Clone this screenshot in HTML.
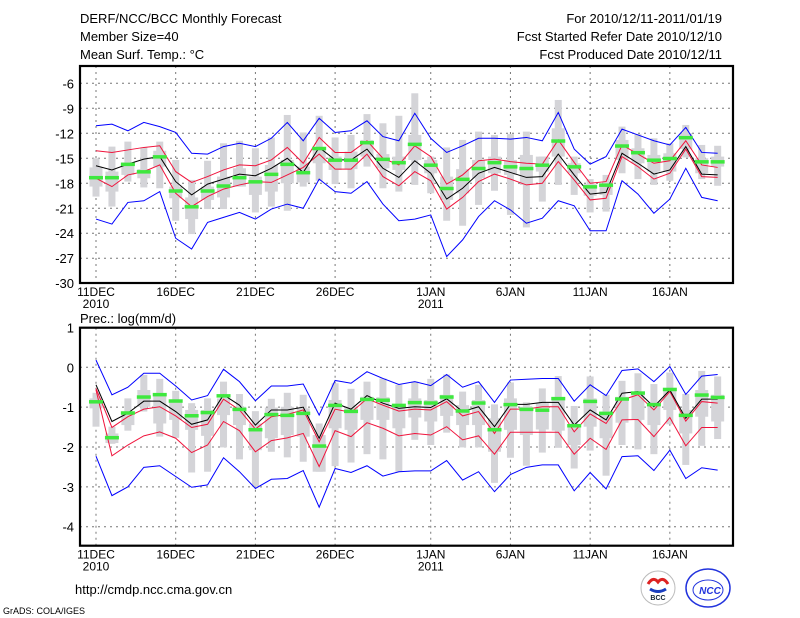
<!DOCTYPE html>
<html><head><meta charset="utf-8"><style>
body{margin:0;background:#fff;width:800px;height:618px;overflow:hidden}
svg{display:block}
text{font-family:"Liberation Sans",sans-serif;fill:#000}
</style></head><body>
<svg id="c" width="800" height="618" xmlns="http://www.w3.org/2000/svg">
<g font-size="13">
<text x="80" y="23">DERF/NCC/BCC Monthly Forecast</text>
<text x="80" y="41">Member Size=40</text>
<text x="80" y="59">Mean Surf. Temp.: °C</text>
<text x="722" y="23" text-anchor="end">For 2010/12/11-2011/01/19</text>
<text x="722" y="41" text-anchor="end">Fcst Started Refer Date 2010/12/10</text>
<text x="722" y="59" text-anchor="end">Fcst Produced Date 2010/12/11</text>
<text x="80" y="323">Prec.: log(mm/d)</text>
<text x="75" y="594">http://cmdp.ncc.cma.gov.cn</text>
<text x="3" y="614" font-size="9">GrADS: COLA/IGES</text>
</g>
<g>
<circle cx="658" cy="588" r="17" fill="#fff" stroke="#bbb"/>
<path d="M648 584 q5 -8 10 -2 q5 -6 10 2" stroke="#d22" stroke-width="3" fill="none"/>
<path d="M650 589 q8 5 16 0" stroke="#1a3fc0" stroke-width="3" fill="none"/>
<text x="658" y="600" font-size="7" text-anchor="middle" font-weight="bold" style="fill:#123">BCC</text>
</g>
<g>
<ellipse cx="708" cy="588" rx="22" ry="19" fill="#fff" stroke="#2233dd" stroke-width="1.5"/>
<ellipse cx="708" cy="590" rx="15" ry="10" fill="none" stroke="#2233dd" stroke-width="1"/>
<text x="710" y="594" font-size="10" text-anchor="middle" font-weight="bold" font-style="italic" style="fill:#2233dd">NCC</text>
</g>
<g id="p1"></g>
<g id="p2"></g>
</svg>
<script>
// Temperature panel data (40 days, 11 Dec 2010 - 19 Jan 2011)
const tBlueHi=[-11.1,-10.9,-11.7,-10.7,-11.2,-11.9,-14.4,-14.5,-13.6,-13.2,-13.6,-12.6,-10.7,-12.9,-10.2,-11.9,-11.7,-10.5,-12.4,-12.9,-9.6,-12.6,-14.3,-13.5,-12.6,-12.6,-12.7,-12.5,-12.9,-9.5,-13.9,-15.7,-14.8,-11.5,-12.2,-12.9,-13.4,-11.3,-14.3,-14.4];
const tBlueLo=[-22.3,-22.9,-20.3,-20.1,-19,-24.6,-25.9,-22.7,-22.1,-21.5,-22.3,-21.1,-20.5,-21,-17.5,-19,-19.2,-17.8,-20.5,-22.5,-22.3,-21.8,-26.8,-24.8,-22,-20.1,-21.2,-22.8,-22.2,-20.1,-20.7,-23.7,-23.7,-17.7,-19.3,-21.6,-19.9,-16.2,-19.7,-20.1];
const tRedHi=[-14.1,-14.3,-14,-13.7,-13.5,-16.6,-17.9,-17.2,-16.4,-15.8,-15.9,-15.2,-13.7,-15.6,-12.5,-14.3,-14.3,-12.9,-15,-15.8,-13.5,-14.8,-18.1,-17,-15.3,-15.1,-15.4,-15.6,-15.7,-12.8,-15.5,-18,-17.8,-13.4,-14.5,-15.6,-15.3,-12.9,-15.8,-16.1];
const tMean=[-15.9,-16.4,-15.7,-15.1,-14.8,-17.8,-19.4,-18.1,-17.5,-16.9,-17.1,-16.2,-15,-16.7,-13.7,-15.2,-15.2,-13.9,-16.2,-17.3,-15.3,-16.8,-19.9,-18.6,-16.8,-16.1,-16.7,-17.3,-17.2,-14.5,-17,-19.3,-19.1,-14.4,-15.6,-16.9,-16.4,-13.6,-16.9,-17];
const tRedLo=[-17.4,-18.4,-17,-16.6,-15.8,-19.2,-20.8,-19.6,-18.7,-18.2,-17.8,-17.9,-17,-16.1,-14.5,-16.3,-16.3,-14.5,-17.2,-18.3,-16.6,-17.7,-21.1,-19.7,-17.8,-16.9,-17.5,-18.2,-18,-15.4,-17.6,-20,-19.8,-14.8,-16,-17.5,-16.8,-13.9,-17.2,-17.3];
const tObs=[-17.3,-17.3,-15.7,-16.6,-14.8,-18.9,-20.8,-18.9,-18.3,-17.3,-17.8,-16.9,-15.7,-16.7,-13.8,-15.2,-15.2,-13.1,-15.1,-15.5,-13.3,-15.8,-18.6,-17.5,-16.2,-15.5,-16,-16.2,-15.8,-12.9,-16,-18.4,-18.2,-13.5,-14.3,-15.2,-15,-12.5,-15.4,-15.4];
const tMax=[-15,-13.6,-13,-13.7,-13,-15.2,-17.6,-15.3,-13.2,-12.9,-13.8,-12.5,-9.8,-11.9,-9.9,-12.5,-12.2,-9.7,-10.8,-9.9,-7.2,-14.8,-13.7,-12.8,-11.8,-12.2,-12.1,-11.8,-14.8,-8,-14.8,-17.5,-17,-11.2,-12.1,-12.6,-13.2,-11,-13.4,-13.5];
const tMin=[-19.6,-20.8,-17.8,-18.5,-18.6,-22.5,-24.1,-21.1,-21.1,-18.4,-21.5,-20.8,-21.3,-18.4,-17.7,-18.1,-18.6,-16,-18.6,-19,-18.2,-19.2,-22.5,-23.1,-20.6,-18.9,-21.8,-23.3,-20.2,-18.2,-19.4,-21.5,-21.4,-16.8,-17.5,-18.2,-17.7,-14.9,-17.5,-18.3];
const tQ3=[-16.1,-16.6,-15.5,-16.3,-14.1,-18.4,-19.7,-18.4,-17.2,-16.2,-17.2,-15.8,-15.2,-16,-13.7,-14.8,-14.2,-12.8,-14.5,-14.8,-12.2,-15.2,-17.2,-16.3,-15.2,-14.8,-15.2,-14.6,-14.8,-11.4,-15.6,-18.1,-18,-12.8,-13.8,-14.6,-14.4,-12,-15,-14.8];
const tQ1=[-18.4,-19,-17,-17.4,-16,-19.8,-22.3,-20,-19.7,-18.4,-19.4,-19,-18,-17.9,-15.6,-16.4,-16.3,-14.8,-16.2,-16.4,-15.2,-16.8,-20,-19.2,-17.4,-16.8,-17,-18.2,-16.6,-14.8,-16.8,-19.5,-19.4,-15.2,-15.6,-16.6,-16.6,-13.9,-16.8,-16];
const tTicks=[-6,-9,-12,-15,-18,-21,-24,-27,-30];
const tTickLabels=["-6","-9","-12","-15","-18","-21","-24","-27","-30"];
// Precipitation panel data, log(mm/d)
const pBlueHi=[0.18,-0.69,-0.5,-0.15,-0.15,-0.47,-0.82,-0.71,-0.05,-0.36,-0.84,-0.47,-0.47,-0.42,-1.2,-0.33,-0.4,-0.11,-0.28,-0.43,-0.36,-0.46,-0.18,-0.5,-0.36,-0.88,-0.32,-0.3,-0.28,-0.28,-0.85,-0.44,-0.71,-0.08,-0.04,-0.36,0.02,-0.68,-0.22,-0.18];
const pBlueLo=[-2.23,-3.22,-3,-2.51,-2.47,-2.74,-3.01,-2.95,-2.27,-2.62,-3.04,-2.81,-2.79,-2.59,-3.51,-2.54,-2.64,-2.47,-2.73,-2.62,-2.6,-2.6,-2.34,-2.83,-2.62,-3.12,-2.69,-2.51,-2.45,-2.45,-3.1,-2.64,-3.05,-2.24,-2.22,-2.59,-2.08,-2.79,-2.52,-2.58];
const pRedHi=[-0.53,-1.51,-1.24,-1.05,-0.99,-1.22,-1.51,-1.43,-0.8,-1.07,-1.55,-1.24,-1.18,-1.07,-1.87,-1.05,-1.13,-0.79,-0.95,-1.1,-1.05,-1.07,-0.86,-1.22,-1.11,-1.66,-1.05,-1.05,-0.99,-0.99,-1.62,-1.17,-1.41,-0.82,-0.69,-1.07,-0.61,-1.35,-0.86,-0.9];
const pMean=[-0.44,-1.36,-1.15,-0.85,-0.85,-1.11,-1.43,-1.32,-0.69,-0.95,-1.45,-1.07,-1.07,-1,-1.78,-0.9,-1.05,-0.71,-0.9,-1.03,-0.99,-1.01,-0.79,-1.11,-0.99,-1.49,-0.93,-0.93,-0.88,-0.88,-1.45,-1.07,-1.32,-0.65,-0.61,-0.99,-0.57,-1.28,-0.8,-0.8];
const pRedLo=[-0.57,-2.22,-1.95,-1.72,-1.62,-1.78,-2.14,-1.95,-1.36,-1.59,-2.12,-1.84,-1.77,-1.66,-2.49,-1.59,-1.74,-1.39,-1.53,-1.72,-1.66,-1.7,-1.49,-1.82,-1.72,-2.18,-1.63,-1.63,-1.63,-1.63,-2.18,-1.78,-2.06,-1.32,-1.31,-1.74,-1.26,-1.97,-1.51,-1.51];
const pObs=[-0.86,-1.76,-1.14,-0.74,-0.68,-0.84,-1.21,-1.13,-0.71,-1.05,-1.56,-1.18,-1.2,-1.15,-1.97,-0.95,-1.1,-0.8,-0.82,-0.95,-0.88,-0.89,-0.74,-1.09,-0.89,-1.56,-0.93,-1.05,-1.07,-0.78,-1.46,-0.85,-1.15,-0.79,-0.64,-0.93,-0.55,-1.2,-0.69,-0.75];
const pMax=[-0.64,-1.49,-0.78,-0.19,-0.29,-0.59,-0.9,-0.78,-0.36,-0.67,-1.1,-0.79,-0.64,-0.69,-1.41,-0.4,-0.54,-0.36,-0.28,-0.44,-0.36,-0.29,-0.18,-0.61,-0.44,-0.93,-0.38,-0.88,-0.53,-0.22,-0.97,-0.23,-0.69,-0.34,-0.15,-0.42,-0.13,-0.67,-0.09,-0.23];
const pMin=[-1.49,-1.92,-1.59,-1.11,-1.74,-1.77,-2.64,-2.62,-2.01,-2.31,-3,-2.12,-2.26,-2.37,-2.62,-2.48,-2.39,-2.18,-2.31,-2.62,-1.82,-1.95,-1.64,-2.01,-2.01,-2.9,-2.27,-2.47,-2.14,-2.02,-2.54,-2.09,-2.72,-1.95,-2.06,-2.18,-1.43,-2.45,-1.97,-1.8];
const pQ3=[-0.78,-1.66,-1.11,-0.57,-0.69,-0.86,-1.07,-1.07,-0.78,-0.99,-1.41,-1.01,-0.99,-1.03,-1.7,-0.82,-0.99,-0.74,-0.75,-0.95,-0.78,-0.82,-0.69,-0.95,-0.82,-1.28,-0.78,-0.99,-0.9,-0.75,-1.49,-0.78,-1.11,-0.74,-0.61,-0.9,-0.53,-1.07,-0.57,-0.69];
const pQ1=[-1.03,-1.9,-1.45,-0.99,-1.41,-1.32,-1.57,-1.72,-1.2,-1.45,-2.08,-1.78,-1.7,-1.74,-2.62,-1.53,-1.57,-1.32,-1.32,-1.53,-1.26,-1.36,-1.22,-1.45,-1.45,-2.12,-1.57,-1.7,-1.56,-1.59,-1.95,-1.49,-1.78,-1.39,-1.32,-1.45,-1.07,-1.66,-1.24,-1.36];
const pTicks=[1,0,-1,-2,-3,-4];
const pTickLabels=["1","0","-1","-2","-3","-4"];
const dateTicks=[0,5,10,15,21,26,31,36];
const dateLabels=["11DEC","16DEC","21DEC","26DEC","1JAN","6JAN","11JAN","16JAN"];
const yearLabels=["2010","","","","2011","","",""];

const NS="http://www.w3.org/2000/svg";
function mk(parent,tag,attrs){const e=document.createElementNS(NS,tag);for(const k in attrs)e.setAttribute(k,attrs[k]);parent.appendChild(e);return e;}
const X0=80,X1=733;
function xs(i){return 96+i*15.94;}

function panel(g,top,bot,yAt,ticks,tickLabels,blueHi,blueLo,redHi,mean,redLo,obs,mx,mn,q3,q1){
  const ys=yAt;
  ticks.forEach((t,k)=>{
    const y=ys(t);
    const gl=mk(g,'line',{x1:X0,x2:X1,y1:y,y2:y,stroke:'#777','stroke-dasharray':'2,4','stroke-width':1});
    
    
    const tl=mk(g,'text',{x:74,y:y+5,'text-anchor':'end','font-size':13});
    tl.textContent=tickLabels[k];
    
    
  });
  dateTicks.forEach((d,k)=>{
    const x=xs(d);
    const gl=mk(g,'line',{x1:x,x2:x,y1:top,y2:bot,stroke:'#777','stroke-dasharray':'2,4','stroke-width':1});
    
    
    const tl=mk(g,'text',{x:x,y:bot+13,'text-anchor':'middle','font-size':12});
    tl.textContent=dateLabels[k];
    
    
    if(yearLabels[k]){
      const yl=mk(g,'text',{x:x,y:bot+25,'text-anchor':'middle','font-size':12});
      yl.textContent=yearLabels[k];
      
      
    }
  });
  for(let i=0;i<mx.length;i++){
    const x=xs(i);
    const w=mk(g,'rect',{x:x-3.5,y:ys(mx[i]),width:7,height:ys(mn[i])-ys(mx[i]),fill:'#d4d4d8'});
    
    
    const b=mk(g,'rect',{x:x-6.5,y:ys(q3[i]),width:13,height:ys(q1[i])-ys(q3[i]),fill:'#d4d4d8'});
    
    
  }
  const line=(arr,col,name)=>{
    const p=mk(g,'polyline',{points:arr.map((v,i)=>xs(i)+','+ys(v)).join(' '),fill:'none',stroke:col,'stroke-width':1});
    
    
  };
  line(blueHi,'#0000ff','upper-extreme-line');
  line(blueLo,'#0000ff','lower-extreme-line');
  line(redHi,'#f0143c','upper-spread-line');
  line(redLo,'#f0143c','lower-spread-line');
  line(mean,'#000','ensemble-mean-line');
  for(let i=0;i<obs.length;i++){
    const r=mk(g,'rect',{x:xs(i)-7,y:ys(obs[i])-1.5,width:14,height:3.5,fill:'#3ee83e'});
    
    
  }
  const f=mk(g,'rect',{x:X0,y:top,width:X1-X0,height:bot-top,fill:'none',stroke:'#000','stroke-width':2.2});
  
  
}
panel(document.getElementById('p1'),66,283,v=>83.3+(-6-v)*8.33,tTicks,tTickLabels,tBlueHi,tBlueLo,tRedHi,tMean,tRedLo,tObs,tMax,tMin,tQ3,tQ1);
panel(document.getElementById('p2'),327.7,545.7,v=>367.3-v*39.85,pTicks,pTickLabels,pBlueHi,pBlueLo,pRedHi,pMean,pRedLo,pObs,pMax,pMin,pQ3,pQ1);
</script>
</body></html>
